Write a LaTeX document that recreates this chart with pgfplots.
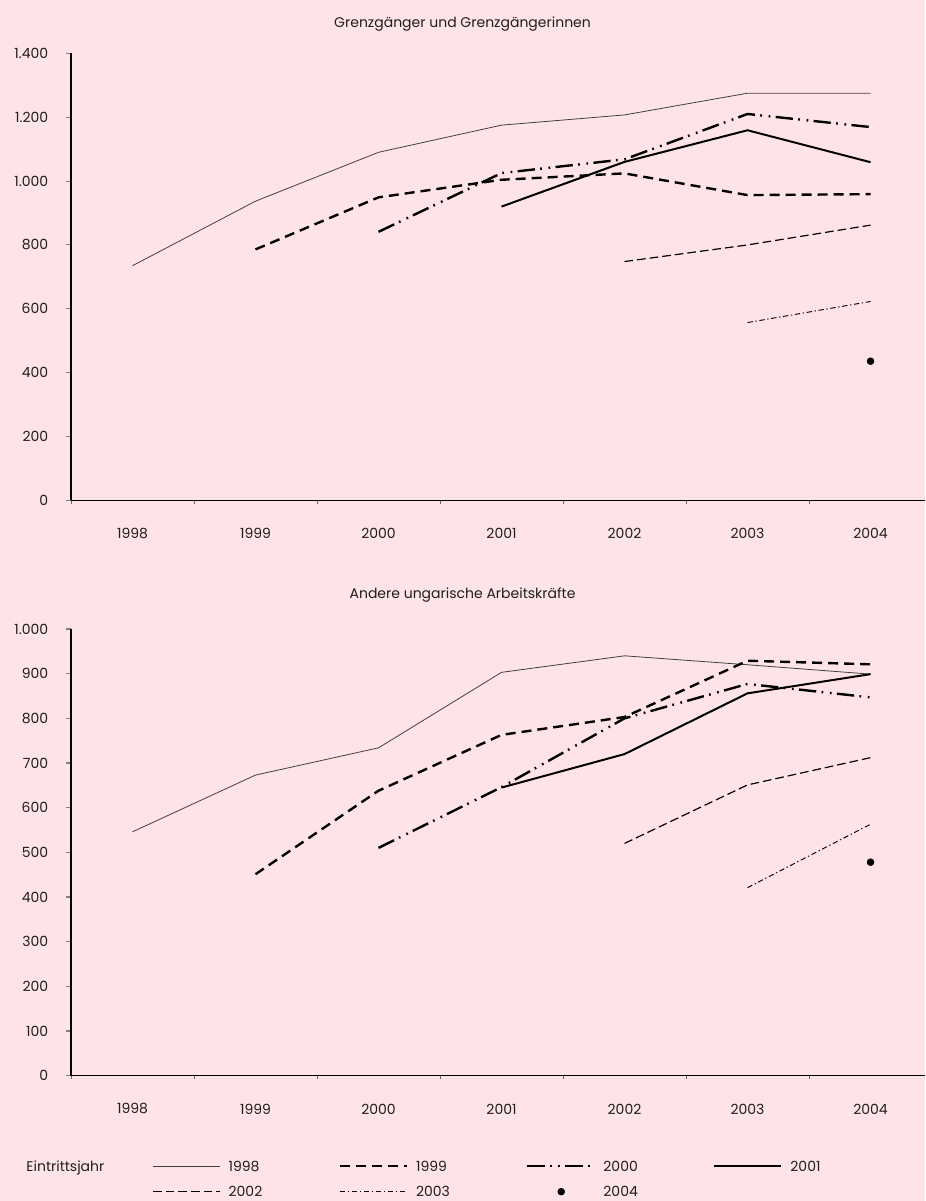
\documentclass[border=0pt]{standalone}
\usepackage{pgfplots}
\pgfplotsset{compat=1.18}
\usepackage{fontspec}
\setmainfont{Poppins}
\definecolor{bg}{RGB}{255,228,231}
\definecolor{txt}{RGB}{30,30,30}
% 1 px of the reference = 0.75pt
\pgfplotsset{
  linelegend/.style={legend image code/.code={\draw[##1] (0pt,0pt) -- (50.25pt,0pt);}},
  dotlegend/.style={legend image code/.code={\draw[##1,mark repeat=2,mark phase=2] plot coordinates {(0pt,0pt) (25.5pt,0pt) (51pt,0pt)};}},
  nolegend/.style={legend image code/.code={}},
  s1998/.style={black!75, line width=0.6pt, linelegend},
  s1999/.style={black, line width=1.8pt, dash pattern=on 7.5pt off 4.5pt, linelegend},
  s2000/.style={black, line width=1.8pt, dash pattern=on 13pt off 4pt on 1.3pt off 5pt on 1.3pt off 4pt, linelegend},
  s2001/.style={black, line width=1.5pt, linelegend},
  s2002/.style={black, line width=0.9pt, dash pattern=on 6.5pt off 3pt, linelegend},
  s2003/.style={black, line width=0.7pt, dash pattern=on 4pt off 2pt on 1pt off 2pt, linelegend},
  s2004/.style={only marks, mark=*, mark size=2.6pt, black, dotlegend},
  panel/.style={
    scale only axis,
    anchor=south west,
    width=640.5pt,
    axis lines=left,
    axis line style={-, black, line width=0.8pt},
    xmin=1997.5, xmax=2004.443,
    xtick={1998,1999,2000,2001,2002,2003,2004},
    xticklabels={1998,1999,2000,2001,2002,2003,2004},
    minor xtick={1997.5,1998.5,1999.5,2000.5,2001.5,2002.5,2003.5},
    major x tick style={draw=none},
    minor x tick style={black!60, line width=0.6pt},
    ytick style={black!50, line width=0.8pt},
    tick align=outside,
    major tick length=3.4pt,
    minor tick length=2.6pt,
    ymin=0,
    tick label style={font=\fontsize{10.5}{12}\selectfont, text=txt},
    yticklabel style={anchor=east, inner sep=0pt, xshift=-13.5pt},
    xticklabel style={anchor=center, inner sep=0pt, yshift=-21.5pt},
    /pgf/number format/1000 sep={.},
    /pgf/number format/assume math mode=true,
  },
}
\begin{document}
\begin{tikzpicture}
\path[use as bounding box, fill=bg] (0,0) rectangle (693.75pt,900.75pt);

\node[text=txt, font=\fontsize{10.5}{12}\selectfont] at (346.9pt,883pt) {Grenzgänger und Grenzgängerinnen};
\node[text=txt, font=\fontsize{10.5}{12}\selectfont] at (346.9pt,454.5pt) {Andere ungarische Arbeitskräfte};

\begin{axis}[panel, at={(53.25pt,525.375pt)}, height=335.4pt,
  ymax=1400, ytick={0,200,...,1400}]
\addplot[s1998] coordinates {(1998,735) (1999,937) (2000,1090) (2001,1175) (2002,1207) (2003,1275) (2004,1275)};
\addplot[s1999] coordinates {(1999,786) (2000,949) (2001,1004) (2002,1024) (2003,956) (2004,959)};
\addplot[s2000] coordinates {(2000,841) (2001,1025) (2002,1068) (2003,1210) (2004,1169)};
\addplot[s2001] coordinates {(2001,920) (2002,1060) (2003,1159) (2004,1059)};
\addplot[s2002] coordinates {(2002,748) (2003,800) (2004,862)};
\addplot[s2003] coordinates {(2003,557) (2004,623)};
\addplot[s2004] coordinates {(2004,436)};
\end{axis}

\begin{axis}[panel, at={(53.25pt,93.975pt)}, height=335.0pt,
  ymax=1000, ytick={0,100,...,1000},
  legend columns=5,
  legend style={draw=none, fill=none, at={(-0.0525,-0.1907)}, anchor=north west,
    inner sep=0pt, column sep=0pt, row sep=11.8pt,
    nodes={inner sep=0pt, text height=7.4pt, text depth=0pt, text=txt,
      font=\fontsize{10.5}{12}\selectfont},
    cells={anchor=west}}]
\addlegendimage{nolegend}
\addlegendentry{\makebox[94.5pt][l]{Eintrittsjahr}}
\addplot[s1998] coordinates {(1998,546) (1999,673) (2000,734) (2001,903) (2002,940) (2003,920) (2004,899)};
\addlegendentry{\makebox[88.5pt][l]{\hspace*{6pt}1998}}
\addplot[s1999] coordinates {(1999,451) (2000,638) (2001,763) (2002,803) (2003,929) (2004,921)};
\addlegendentry{\makebox[88.5pt][l]{\hspace*{6pt}1999}}
\addplot[s2000] coordinates {(2000,510) (2001,646) (2002,800) (2003,877) (2004,847)};
\addlegendentry{\makebox[88.5pt][l]{\hspace*{6pt}2000}}
\addplot[s2001] coordinates {(2001,645) (2002,720) (2003,856) (2004,899)};
\addlegendentry{\makebox[88.5pt][l]{\hspace*{6pt}2001}}
\addlegendimage{nolegend}
\addlegendentry{}
\addplot[s2002] coordinates {(2002,520) (2003,651) (2004,712)};
\addlegendentry{\makebox[88.5pt][l]{\hspace*{6pt}2002}}
\addplot[s2003] coordinates {(2003,421) (2004,563)};
\addlegendentry{\makebox[88.5pt][l]{\hspace*{6pt}2003}}
\addplot[s2004] coordinates {(2004,478)};
\addlegendentry{\makebox[88.5pt][l]{\hspace*{6pt}2004}}
\end{axis}
\end{tikzpicture}
\end{document}
